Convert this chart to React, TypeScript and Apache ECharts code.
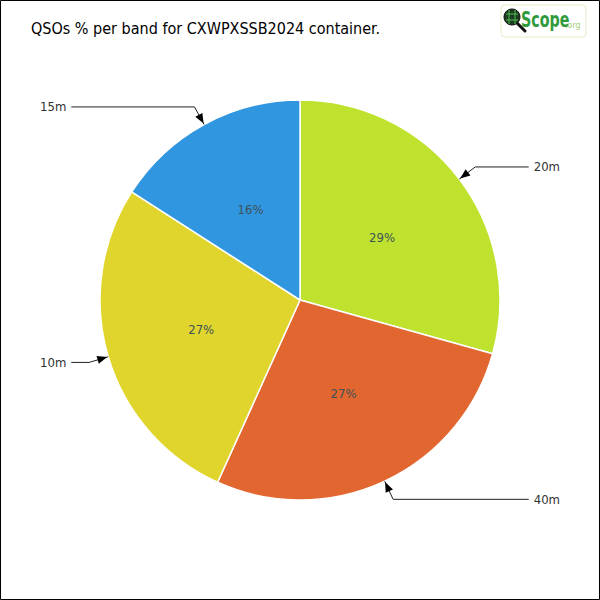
import React, { useEffect, useRef } from "react";
import * as echarts from "echarts";

const bands = ["20m", "40m", "10m", "15m"];
const qsoShare = [29.3, 27.4, 27.3, 15.9];
const bandColors = ["#BEE22E", "#E2662F", "#E0D52D", "#2F96DF"];
const titleText = "QSOs % per band for CXWPXSSB2024 container.";

const FONT = "'DejaVu Sans Condensed', 'DejaVu Sans', sans-serif";

export default function App() {
  const ref = useRef<HTMLDivElement>(null);
  useEffect(() => {
    if (!ref.current) return;
    const chart = echarts.init(ref.current, undefined, { renderer: "svg" });
    const cx = 300, cy = 300, R = 200;
    const total = qsoShare.reduce((a, b) => a + b, 0);
    const arrows: any[] = [];
    let acc = 0;
    qsoShare.forEach((v) => {
      const mid = ((acc + v / 2) / total) * Math.PI * 2;
      acc += v;
      const ux = Math.sin(mid), uy = -Math.cos(mid);
      const tx = cx + ux * (R + 1), ty = cy + uy * (R + 1);
      const bx = tx + ux * 10, by = ty + uy * 10;
      const px = -uy, py = ux;
      arrows.push({
        type: "polygon",
        z: 100,
        shape: {
          points: [
            [tx, ty],
            [bx + px * 4, by + py * 4],
            [bx - px * 4, by - py * 4],
          ],
        },
        style: { fill: "#000" },
      });
    });
    const data = bands.map((b, i) => ({ name: b, value: qsoShare[i], itemStyle: { color: bandColors[i] } }));
    chart.setOption({
      animation: false,
      backgroundColor: "#fff",
      title: {
        text: titleText,
        left: 26,
        top: 15,
        textStyle: { fontFamily: FONT, fontSize: 16, fontWeight: "normal", color: "#000" },
      },
      graphic: [
        { type: "rect", shape: { x: 0.5, y: 0.5, width: 599, height: 599 }, style: { fill: "none", stroke: "#000", lineWidth: 1 }, z: 200 },
        {
          type: "group",
          z: 150,
          children: [
            { type: "rect", shape: { x: 501, y: 5, width: 85, height: 32, r: 4 }, style: { fill: "#fff", stroke: "#e4edc9", lineWidth: 1 } },
            { type: "line", shape: { x1: 516, y1: 22, x2: 525, y2: 31 }, style: { stroke: "#111", lineWidth: 3, lineCap: "round" } },
            { type: "circle", shape: { cx: 512, cy: 17, r: 8 }, style: { fill: "#1d3d22", stroke: "#111", lineWidth: 1 } },
            { type: "line", shape: { x1: 506, y1: 14, x2: 518, y2: 14 }, style: { stroke: "#4fbf4f", lineWidth: 1 } },
            { type: "line", shape: { x1: 506, y1: 20, x2: 518, y2: 20 }, style: { stroke: "#4fbf4f", lineWidth: 1 } },
            { type: "line", shape: { x1: 509, y1: 10, x2: 509, y2: 24 }, style: { stroke: "#4fbf4f", lineWidth: 1 } },
            { type: "line", shape: { x1: 515, y1: 10, x2: 515, y2: 24 }, style: { stroke: "#4fbf4f", lineWidth: 1 } },
            {
              type: "text",
              x: 521,
              y: 19,
              scaleX: 0.68,
              style: { x: 0, y: 0, text: "Scope", fill: "#2f9a3c", font: "bold 21px 'DejaVu Sans', sans-serif", textVerticalAlign: "middle" },
            },
            {
              type: "text",
              style: { x: 565, y: 25, text: ".org", fill: "#a3d07a", font: "8px 'DejaVu Sans', sans-serif", textVerticalAlign: "middle" },
            },
          ],
        },
        ...arrows,
      ],
      series: [
        {
          type: "pie",
          center: [cx, cy],
          radius: [0, R],
          startAngle: 90,
          clockwise: true,
          silent: true,
          itemStyle: { borderColor: "#fff", borderWidth: 1.5 },
          label: {
            position: "inside",
            formatter: (p: any) => Math.round(p.percent) + "%",
            fontFamily: FONT,
            fontSize: 13,
            color: "#3f5258",
          },
          labelLine: { show: false },
          data,
        },
        {
          type: "pie",
          center: [cx, cy],
          radius: [0, R],
          startAngle: 90,
          clockwise: true,
          silent: true,
          z: 3,
          itemStyle: { color: "transparent", borderWidth: 0 },
          label: {
            position: "outside",
            alignTo: "edge",
            edgeDistance: 40,
            overflow: "none",
            formatter: "{b}",
            fontFamily: FONT,
            fontSize: 13,
            color: "#333",
          },
          labelLine: { show: true, length: 20, length2: 30, lineStyle: { color: "#222", width: 1 } },
          data: bands.map((b, i) => ({ name: b, value: qsoShare[i], itemStyle: { color: "transparent" } })),
        },
      ],
    });
    return () => chart.dispose();
  }, []);
  return <div ref={ref} style={{ position: "absolute", left: 0, top: 0, width: 600, height: 600 }} />;
}
